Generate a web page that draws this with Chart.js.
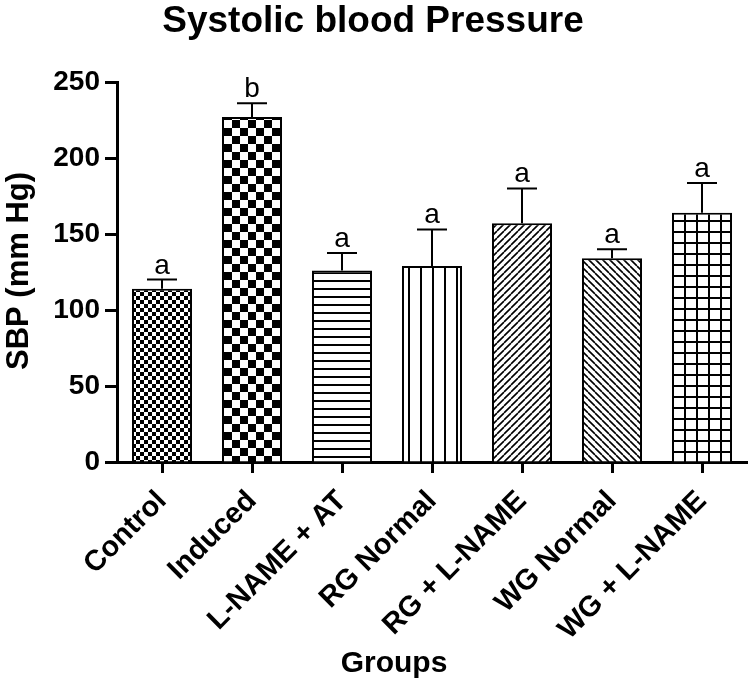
<!DOCTYPE html>
<html>
<head>
<meta charset="utf-8">
<script src="https://cdn.jsdelivr.net/npm/chart.js@4.4.0/dist/chart.umd.min.js"></script>
<style>
  html, body { margin: 0; padding: 0; background: #fff; }
  #wrap { width: 750px; height: 688px; }
</style>
</head>
<body>
<div id="wrap"><canvas id="sbpChart" width="750" height="688"></canvas></div>
<script>
// 数据
const groups = ['Control', 'Induced', 'L-NAME + AT', 'RG Normal', 'RG + L-NAME', 'WG Normal', 'WG + L-NAME'];
const sbpMean = [114, 227, 126, 129, 157, 134, 164];
const sbpSem = [6, 9, 11.5, 24, 23, 6, 19.5];
const sigLetters = ['a', 'b', 'a', 'a', 'a', 'a', 'a'];
const yTicks = [0, 50, 100, 150, 200, 250];

const FONT = 'Arial, "Liberation Sans", sans-serif';

const canvas = document.getElementById('sbpChart');
const ctx = canvas.getContext('2d');

// 填充图案
function makePattern(w, h, draw) {
  const c = document.createElement('canvas');
  c.width = w;
  c.height = h;
  const g = c.getContext('2d');
  g.fillStyle = '#fff';
  g.fillRect(0, 0, w, h);
  g.fillStyle = '#000';
  g.strokeStyle = '#000';
  draw(g, w, h);
  return ctx.createPattern(c, 'repeat');
}

function diag(g, w, h, up) {
  g.lineWidth = 1.6;
  g.beginPath();
  for (let k = -1; k <= 1; k++) {
    if (up) {
      g.moveTo(k * w, h);
      g.lineTo(k * w + w, 0);
    } else {
      g.moveTo(k * w, 0);
      g.lineTo(k * w + w, h);
    }
  }
  g.stroke();
}

const fills = [
  makePattern(8, 8, g => { g.fillRect(0, 0, 4, 4); g.fillRect(4, 4, 4, 4); }),
  makePattern(16, 16, g => { g.fillRect(0, 0, 8, 8); g.fillRect(8, 8, 8, 8); }),
  makePattern(8, 8, g => { g.fillRect(0, 0, 8, 2); }),
  makePattern(12, 12, g => { g.fillRect(0, 0, 2, 12); }),
  makePattern(7, 7, (g, w, h) => diag(g, w, h, true)),
  makePattern(7, 7, (g, w, h) => diag(g, w, h, false)),
  makePattern(12, 11, g => { g.fillRect(0, 0, 2, 11); g.fillRect(0, 0, 12, 2); })
];

// 误差线、字母和标题
const annotPlugin = {
  id: 'annot',
  afterDatasetsDraw(chart) {
    const c = chart.ctx;
    const xs = chart.scales.x;
    const ys = chart.scales.y;
    c.save();
    c.strokeStyle = '#000';
    c.fillStyle = '#000';
    c.lineWidth = 2;
    sbpMean.forEach((m, i) => {
      const x = xs.getPixelForValue(i);
      const yTop = ys.getPixelForValue(m);
      const yErr = ys.getPixelForValue(m + sbpSem[i]);
      c.beginPath();
      c.moveTo(x, yTop);
      c.lineTo(x, yErr);
      c.moveTo(x - 15, yErr);
      c.lineTo(x + 15, yErr);
      c.stroke();
      c.font = `28px ${FONT}`;
      c.textAlign = 'center';
      c.textBaseline = 'alphabetic';
      c.fillText(sigLetters[i], x, yErr - 6);
    });
    c.textAlign = 'center';
    c.textBaseline = 'alphabetic';
    c.font = `bold 37px ${FONT}`;
    c.fillText('Systolic blood Pressure', 373, 32);
    c.font = `bold 30px ${FONT}`;
    c.fillText('Groups', 394, 672);
    c.translate(28, 271);
    c.rotate(-Math.PI / 2);
    c.font = `bold 31px ${FONT}`;
    c.fillText('SBP (mm Hg)', 0, 0);
    c.restore();
  }
};

const chart = new Chart(ctx, {
  type: 'bar',
  data: {
    labels: groups,
    datasets: [{
      data: sbpMean,
      backgroundColor: fills,
      borderColor: '#000',
      borderWidth: 2,
      borderSkipped: 'start',
      barPercentage: 1,
      categoryPercentage: 0.667
    }]
  },
  options: {
    responsive: false,
    animation: false,
    layout: { padding: { top: 82, right: 3, left: 0, bottom: 0 } },
    plugins: {
      legend: { display: false },
      tooltip: { enabled: false },
      title: { display: false }
    },
    scales: {
      x: {
        offset: true,
        grid: {
          offset: false,
          drawOnChartArea: false,
          tickLength: 11,
          tickWidth: 3,
          tickColor: '#000'
        },
        border: { display: true, color: '#000', width: 3 },
        ticks: {
          color: '#000',
          font: { family: FONT, size: 29, weight: 'bold' },
          minRotation: 45,
          maxRotation: 45,
          padding: 11,
          autoSkip: false
        },
        afterFit: s => { s.height = 226; }
      },
      y: {
        min: 0,
        max: 250,
        afterBuildTicks: s => { s.ticks = yTicks.map(v => ({ value: v })); },
        grid: {
          drawOnChartArea: false,
          tickLength: 12,
          tickWidth: 3,
          tickColor: '#000'
        },
        border: { display: true, color: '#000', width: 3 },
        ticks: {
          color: '#000',
          font: { family: FONT, size: 28, weight: 'bold' },
          padding: 5
        },
        afterFit: s => { s.width = 117; }
      }
    }
  },
  plugins: [annotPlugin]
});
</script>
</body>
</html>
